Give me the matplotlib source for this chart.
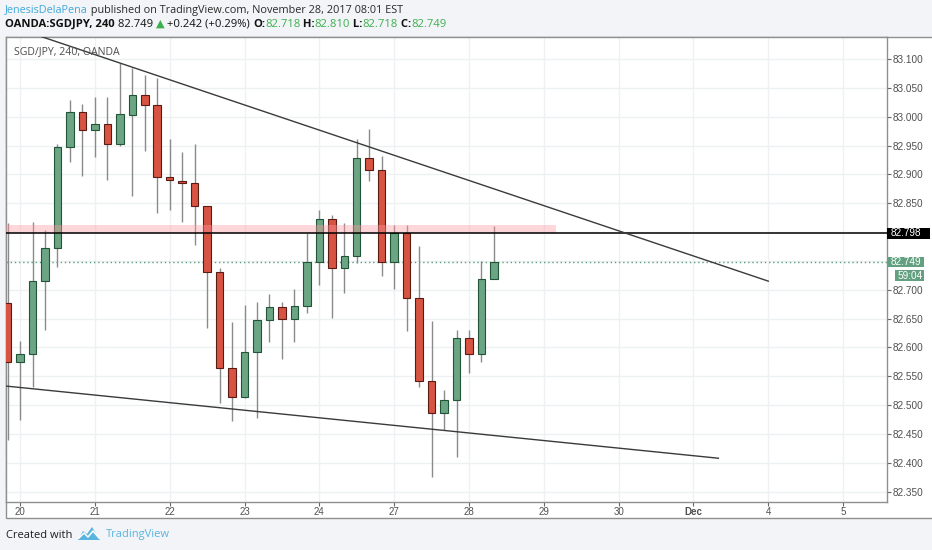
import numpy as np
import matplotlib
matplotlib.use('Agg')
import matplotlib.pyplot as plt
from matplotlib.patches import Rectangle, Polygon

###############################
## data: SGD/JPY 240 min bars #
###############################

opens = [82.677, 82.575, 82.588, 82.715, 82.772, 82.947, 83.009, 82.977, 82.987, 82.953,
         83.003, 83.038, 83.021, 82.896, 82.889, 82.885, 82.846, 82.730, 82.565, 82.515,
         82.592, 82.647, 82.670, 82.649, 82.672, 82.748, 82.822, 82.737, 82.759, 82.928,
         82.907, 82.748, 82.798, 82.685, 82.542, 82.487, 82.509, 82.617, 82.589, 82.718]
highs = [82.816, 82.611, 82.817, 82.804, 82.952, 83.029, 83.022, 83.035, 83.035, 83.093,
         83.084, 83.073, 83.067, 82.961, 82.939, 82.952, 82.846, 82.737, 82.644, 82.674,
         82.678, 82.692, 82.678, 82.702, 82.798, 82.839, 82.829, 82.815, 82.961, 82.979,
         82.932, 82.813, 82.812, 82.776, 82.646, 82.526, 82.630, 82.630, 82.750, 82.810]
lows = [82.440, 82.474, 82.531, 82.631, 82.740, 82.922, 82.898, 82.931, 82.890, 82.950,
        82.863, 82.941, 82.833, 82.838, 82.817, 82.778, 82.633, 82.504, 82.473, 82.512,
        82.477, 82.609, 82.580, 82.609, 82.659, 82.708, 82.651, 82.694, 82.747, 82.889,
        82.724, 82.701, 82.629, 82.532, 82.376, 82.457, 82.410, 82.555, 82.575, 82.718]
closes = [82.575, 82.589, 82.715, 82.772, 82.947, 83.009, 82.977, 82.987, 82.953, 83.004,
          83.038, 83.021, 82.895, 82.890, 82.885, 82.845, 82.730, 82.565, 82.515, 82.592,
          82.648, 82.670, 82.649, 82.672, 82.748, 82.822, 82.737, 82.759, 82.928, 82.907,
          82.748, 82.798, 82.685, 82.542, 82.487, 82.509, 82.617, 82.589, 82.719, 82.749]

day_ticks = [1, 7, 13, 19, 25, 31, 37, 43, 49, 55, 61, 67]
day_labels = ['20', '21', '22', '23', '24', '27', '28', '29', '30', 'Dec', '4', '5']
price_ticks = [82.35, 82.40, 82.45, 82.50, 82.55, 82.60, 82.65, 82.70,
               82.75, 82.80, 82.85, 82.90, 82.95, 83.00, 83.05, 83.10]

resistance_level = 82.798
zone_top = 82.812
zone_end = 44
last_price = 82.749
countdown = '59:04'

upper_trend_x = [2, 61]
upper_trend_y = [83.144, 82.715]
lower_trend_x = [-1, 57]
lower_trend_y = [82.535, 82.408]

W, H = 932, 550
GREEN = '#6ba583'
GREEN_EDGE = '#225437'
RED = '#d75442'
RED_EDGE = '#5b1a13'
HEAD_GREEN = '#3daf4e'
FONT = ['Open Sans', 'DejaVu Sans']

fig = plt.figure(figsize=(W / 100, H / 100), dpi=100)

# background layer in pixel coordinates
bg = fig.add_axes([0, 0, 1, 1], zorder=-1)
bg.set_xlim(0, W)
bg.set_ylim(H, 0)
bg.axis('off')
fig.patch.set_facecolor('#f2f4f7')
bg.add_patch(Rectangle((6, 36.7), 940, 481.6, facecolor='white',
                       edgecolor='#8f8f8f', lw=1))


def chain_text(x, y, pieces, size):
    t = bg.text(x, y, pieces[0][0], color=pieces[0][1], fontweight=pieces[0][2],
                family=FONT, fontsize=size, va='center', ha='left')
    for s, col, wt in pieces[1:]:
        t = bg.annotate(s, xy=(1, 0), xycoords=t, va='bottom', ha='left',
                        color=col, fontweight=wt, family=FONT, fontsize=size)
    return t


chain_text(5, 10, [('JenesisDelaPena', '#3fa9dc', 'normal'),
                   (' published on TradingView.com, November 28, 2017 08:01 EST', '#2a2a2a', 'normal')], 7.85)
chain_text(5, 24.5, [('OANDA:SGDJPY, 240', '#111111', 'bold'),
                     (' 82.749 ', '#111111', 'normal'),
                     ('\u25b2', HEAD_GREEN, 'normal'),
                     (' +0.242 (+0.29%) ', '#111111', 'normal'),
                     ('O:', '#111111', 'bold'),
                     ('82.718', HEAD_GREEN, 'normal'),
                     (' H:', '#111111', 'bold'),
                     ('82.810', HEAD_GREEN, 'normal'),
                     (' L:', '#111111', 'bold'),
                     ('82.718', HEAD_GREEN, 'normal'),
                     (' C:', '#111111', 'bold'),
                     ('82.749', HEAD_GREEN, 'normal')], 8.15)

# footer
bg.text(6, 535, 'Created with', family=FONT, fontsize=8, color='#1e1e1e', va='center')
bg.add_patch(Polygon([(78, 540), (83, 531), (87, 534), (92, 527), (100, 540)],
                     closed=True, facecolor='#5ab4e0', edgecolor='none'))
bg.plot([79, 84, 88, 93, 99], [538, 533, 537, 531, 538], color='white', lw=1.1)
bg.text(106, 535, 'TradingView', family=FONT, fontsize=8, color='#5ab4e0', va='center')

###############################
## main chart ##################
###############################

ax = fig.add_axes([6 / W, 1 - 502.3 / H, 880.7 / W, 465.6 / H], zorder=1)
ax.set_facecolor('white')
ax.set_xlim(-0.128, 70.5)
ax.set_ylim(82.3316, 83.1387)

x = np.arange(len(opens))
o = np.array(opens)
c = np.array(closes)
up = c >= o
face = np.where(up, GREEN, RED)
edge = np.where(up, GREEN_EDGE, RED_EDGE)
body_low = np.minimum(o, c)
body_h = np.maximum(np.abs(c - o), 0.0015)

ax.vlines(x, lows, highs, color='#8a8a8a', lw=1, zorder=2)
ax.bar(x, body_h, bottom=body_low, width=0.6, color=face, edgecolor=edge,
       linewidth=0.8, zorder=3)

ax.fill_between([-1, zone_end], resistance_level, zone_top, color='#ff9aa2',
                alpha=0.4, lw=0, zorder=4)
ax.axhline(resistance_level, color='black', lw=1.1, zorder=5)
ax.axhline(last_price, color='#5a9e7c', lw=1, ls=(0, (1, 2)), zorder=1.5)
ax.plot(upper_trend_x, upper_trend_y, color='#3a3a3a', lw=1, zorder=5)
ax.plot(lower_trend_x, lower_trend_y, color='#3a3a3a', lw=1, zorder=5)

# price labels hidden behind the last-price / line boxes are left blank
covered = [82.75, 82.80]
ax.set_xticks(day_ticks)
ax.set_xticklabels(day_labels)
ax.set_yticks(price_ticks)
ax.set_yticklabels(['' if p in covered else '%.3f' % p for p in price_ticks])
ax.yaxis.tick_right()
ax.grid(color='#eef1f4', lw=1)
ax.set_axisbelow(True)
for sp in ax.spines.values():
    sp.set_color('#8f8f8f')
    sp.set_linewidth(1)
ax.tick_params(axis='y', length=3, width=0.8, color='#666666', pad=1.5,
               labelsize=7.2, labelcolor='#505050')
ax.tick_params(axis='x', length=3, width=0.8, color='#666666', pad=0.3,
               labelsize=7, labelcolor='#505050')
for lab in ax.get_yticklabels() + ax.get_xticklabels():
    lab.set_fontfamily('Liberation Sans')
ax.get_xticklabels()[day_labels.index('Dec')].set_fontweight('bold')

ax.text(8 / 880.7, 1 - 15 / 465.6, 'SGD/JPY, 240, OANDA', transform=ax.transAxes,
        family=FONT, fontsize=7.6, color='#4d4d4d', va='center', zorder=6)

# price scale labels
ppx = (83.1387 - 82.3316) / 465.6
ytr = ax.get_yaxis_transform()
ax.add_patch(Rectangle((1.0, resistance_level - 5.5 * ppx), 43 / 880.7, 11 * ppx,
                       transform=ytr, facecolor='black', clip_on=False, zorder=10))
ax.text(1 + 4 / 880.7, resistance_level, '%.3f' % resistance_level, transform=ytr,
        color='white', fontsize=7.2, family='Liberation Sans', va='center',
        clip_on=False, zorder=11)
ax.add_patch(Rectangle((1.0015, last_price - 5 * ppx), 36 / 880.7, 10 * ppx,
                       transform=ytr, facecolor='#62a07f', clip_on=False, zorder=10))
ax.text(1 + 4 / 880.7, last_price, '%.3f' % last_price, transform=ytr,
        color='white', fontsize=7.2, family='Liberation Sans', va='center',
        clip_on=False, zorder=11)
cd = last_price - 14 * ppx
ax.add_patch(Rectangle((1 + 8 / 880.7, cd - 5.8 * ppx), 29 / 880.7, 11.6 * ppx,
                       transform=ytr, facecolor='#62a07f', clip_on=False, zorder=10))
ax.text(1 + 11 / 880.7, cd, countdown, transform=ytr, color='white', fontsize=7.2,
        family='Liberation Sans', va='center', clip_on=False, zorder=11)

fig.savefig('out.png', dpi=100, facecolor=fig.get_facecolor())
